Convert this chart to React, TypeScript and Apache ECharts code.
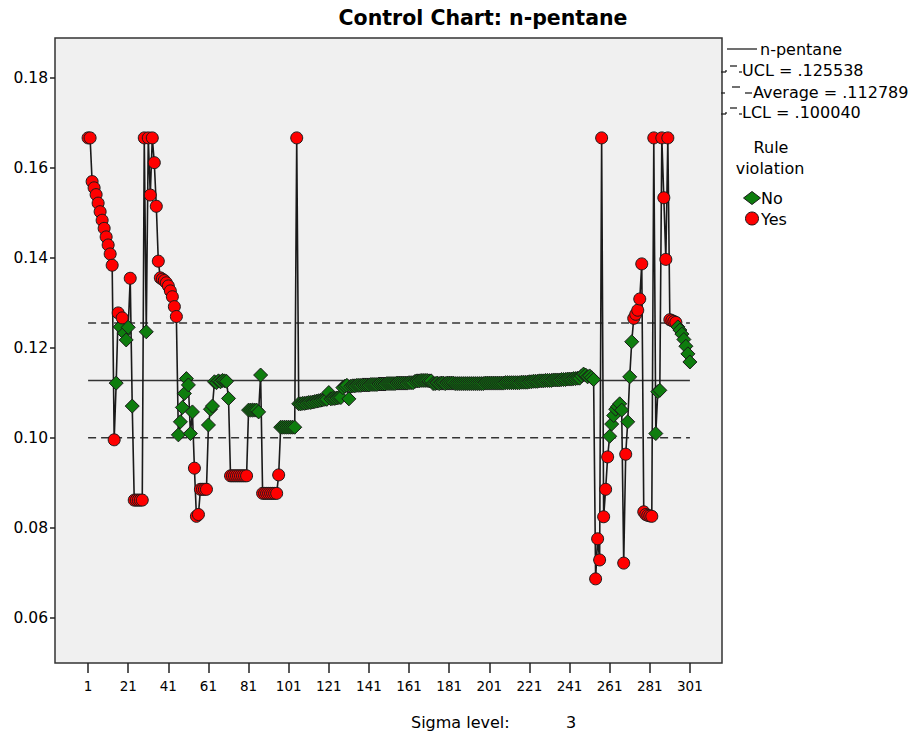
import React, { useEffect, useRef } from "react";
import * as echarts from "echarts";

const xTicks = [1, 21, 41, 61, 81, 101, 121, 141, 161, 181, 201, 221, 241, 261, 281, 301];
const yTicks = [0.06, 0.08, 0.1, 0.12, 0.14, 0.16, 0.18];
const UCL = 0.125538;
const AVERAGE = 0.112789;
const LCL = 0.10004;
const legendLabels = ["n-pentane", "UCL = .125538", "Average = .112789", "LCL = .100040"];
const ruleLabels = ["No", "Yes"];

// n-pentane values, sample 1..301
const values = [
  // 1-13
  0.1667, 0.1667, 0.157, 0.1556, 0.1541, 0.1522, 0.1503, 0.1484, 0.1466, 0.1447, 0.1429, 0.1409, 0.1384,
  // 14-23
  0.0996, 0.1122, 0.1278, 0.1247, 0.1267, 0.1233, 0.1218, 0.1246, 0.1355, 0.1071,
  // 24-28
  0.0862, 0.0862, 0.0862, 0.0862, 0.0862,
  // 29-36
  0.1667, 0.1236, 0.1667, 0.154, 0.1667, 0.1612, 0.1515, 0.1393,
  // 37-45
  0.1356, 0.1353, 0.135, 0.1345, 0.1338, 0.1327, 0.1314, 0.1292, 0.127,
  // 46-53
  0.1007, 0.1036, 0.1068, 0.1099, 0.1132, 0.1118, 0.101, 0.1058,
  // 54-60
  0.0933, 0.0826, 0.083, 0.0886, 0.0886, 0.0886, 0.0886,
  // 61-71
  0.1029, 0.1064, 0.1071, 0.1125, 0.1123, 0.1127, 0.1125, 0.1128, 0.1127, 0.1126, 0.1088,
  // 72-80
  0.0916, 0.0916, 0.0916, 0.0916, 0.0916, 0.0916, 0.0916, 0.0916, 0.0916,
  // 81-86
  0.1062, 0.1062, 0.1062, 0.1062, 0.1062, 0.1058,
  // 87
  0.114,
  // 88-95
  0.0877, 0.0877, 0.0877, 0.0877, 0.0877, 0.0877, 0.0877, 0.0877,
  // 96
  0.0918,
  // 97-104
  0.1024, 0.1024, 0.1024, 0.1024, 0.1024, 0.1024, 0.1024, 0.1024,
  // 105
  0.1667,
  // 106-120
  0.1076, 0.1076, 0.1077, 0.1077, 0.1078, 0.1079, 0.1079, 0.108, 0.1081, 0.1082, 0.1083, 0.1084, 0.1085, 0.1086, 0.1086,
  // 121
  0.1101,
  // 122-127
  0.1087, 0.1088, 0.1088, 0.1089, 0.109, 0.109,
  // 128-130
  0.1112, 0.1115, 0.1117,
  // 131
  0.1087,
  // 132-150
  0.1115, 0.1116, 0.1116, 0.1117, 0.1117, 0.1117, 0.1118, 0.1118, 0.1118, 0.1118,
  0.1119, 0.1119, 0.1119, 0.1119, 0.112, 0.112, 0.112, 0.112, 0.1121,
  // 151-163
  0.1121, 0.1121, 0.1121, 0.1121, 0.1122, 0.1122, 0.1122, 0.1122, 0.1122, 0.1122, 0.1123, 0.1123, 0.1123,
  // 164-172
  0.1126, 0.1127, 0.1127, 0.1128, 0.1128, 0.1128, 0.1128, 0.1127, 0.1127,
  // 173-220
  0.1121, 0.1121, 0.1122, 0.1121, 0.1122, 0.1122, 0.1121, 0.1122, 0.1122, 0.1122,
  0.1122, 0.1121, 0.1121, 0.1121, 0.1121, 0.1121, 0.1121, 0.1121, 0.1121, 0.1121,
  0.1121, 0.1121, 0.1121, 0.1121, 0.1121, 0.1121, 0.1122, 0.1122, 0.1122, 0.1122,
  0.1122, 0.1122, 0.1122, 0.1122, 0.1122, 0.1122, 0.1123, 0.1123, 0.1123, 0.1123,
  0.1123, 0.1123, 0.1123, 0.1123, 0.1124, 0.1124, 0.1124, 0.1124,
  // 221-245
  0.1125, 0.1125, 0.1126, 0.1126, 0.1126, 0.1127, 0.1127, 0.1127, 0.1128, 0.1128,
  0.1128, 0.1128, 0.1129, 0.1129, 0.1129, 0.1129, 0.113, 0.113, 0.113, 0.1131,
  0.1131, 0.1131, 0.1132, 0.1132, 0.1133,
  // 246-253
  0.1133, 0.1138, 0.1142, 0.114, 0.1136, 0.1138, 0.1134, 0.113,
  // 254-301
  0.0687, 0.0776, 0.0729, 0.1667, 0.0825, 0.0886, 0.0958, 0.1004, 0.1031, 0.105,
  0.1064, 0.107, 0.1076, 0.1062, 0.0722, 0.0964, 0.1036, 0.1136, 0.1214, 0.1266,
  0.1275, 0.1284, 0.1309, 0.1387, 0.0836, 0.083, 0.0828, 0.0827, 0.0826, 0.1667,
  0.101, 0.1103, 0.1106, 0.1667, 0.1534, 0.1397, 0.1667, 0.1263, 0.1261, 0.1259,
  0.1257, 0.1247, 0.124, 0.1231, 0.1219, 0.1204, 0.1187, 0.1169,
];

const GREEN = "#0e7d0e";
const RED = "#ff0000";
const FONT = '"DejaVu Sans", sans-serif';

export default function App() {
  const ref = useRef<HTMLDivElement>(null);
  useEffect(() => {
    if (!ref.current) return;
    const chart = echarts.init(ref.current, null, { renderer: "svg" });
    const n = values.length;
    const pts = values.map((v, i) => {
      const viol = v > UCL || v < LCL;
      return {
        value: [i + 1, v],
        symbol: viol ? "circle" : "diamond",
        symbolSize: viol ? 12 : 14,
        itemStyle: { color: viol ? RED : GREEN, borderColor: "#1a1a1a", borderWidth: 1 },
      };
    });
    const limitLine = (val: number, dashed: boolean, name: string) => ({
      type: "line",
      name,
      silent: true,
      symbol: "none",
      z: 1,
      data: [
        [1, val],
        [n, val],
      ],
      lineStyle: { color: "#333", width: 1.5, type: dashed ? [8, 5] : "solid" },
    });
    const lx = 720;
    const seg = (x1: number, y1: number, x2: number, y2: number) => ({
      type: "line",
      shape: { x1, y1, x2, y2 },
      style: { stroke: "#222", lineWidth: 1.3 },
    });
    const txt = (text: string, x: number, y: number, align = "left", size = 16, weight = "normal") => ({
      type: "text",
      x,
      y,
      style: {
        text,
        fill: "#000",
        font: `${weight} ${size}px ${FONT}`,
        align,
        verticalAlign: "middle",
      },
    });
    const option = {
      animation: false,
      backgroundColor: "#ffffff",
      textStyle: { fontFamily: FONT },
      grid: {
        left: 55,
        top: 38,
        width: 667,
        height: 625,
        show: true,
        backgroundColor: "#f0f0f0",
        borderColor: "#333",
        borderWidth: 1.5,
      },
      xAxis: {
        type: "value",
        min: -15.5,
        max: 317,
        axisLine: { show: false, onZero: false },
        splitLine: { show: false },
        axisTick: { show: true, customValues: xTicks, length: 10, lineStyle: { color: "#222", width: 1.5 } },
        axisLabel: { customValues: xTicks, fontSize: 13.5, color: "#000", margin: 16, fontFamily: FONT },
      },
      yAxis: {
        type: "value",
        min: 0.05,
        max: 0.1889,
        axisLine: { show: false, onZero: false },
        splitLine: { show: false },
        axisTick: { show: true, customValues: yTicks, length: 5, lineStyle: { color: "#222", width: 1.5 } },
        axisLabel: {
          customValues: yTicks,
          fontSize: 15.5,
          color: "#000",
          margin: 7,
          fontFamily: FONT,
          formatter: (v: number) => v.toFixed(2),
        },
      },
      series: [
        limitLine(UCL, true, "UCL"),
        limitLine(AVERAGE, false, "Average"),
        limitLine(LCL, true, "LCL"),
        {
          type: "line",
          name: "n-pentane",
          z: 3,
          showAllSymbol: true,
          data: pts,
          lineStyle: { color: "#1a1a1a", width: 1.6 },
        },
      ],
      graphic: [
        txt("Control Chart: n-pentane", 483, 18, "center", 20.5, "bold"),
        // legend: n-pentane
        seg(727, 49, 757, 49),
        txt(legendLabels[0], 760, 49),
        // UCL
        seg(lx + 1, 72, lx + 6, 72),
        seg(lx + 6, 72, lx + 6, 70),
        seg(lx + 10, 66, lx + 17, 66),
        seg(lx + 19, 72, lx + 22, 72),
        txt(legendLabels[1], 742, 70),
        // Average
        seg(lx + 1, 93, lx + 5, 93),
        seg(lx + 12, 87, lx + 20, 87),
        seg(lx + 25, 93, lx + 32, 93),
        txt(legendLabels[2], 753, 92),
        // LCL
        seg(lx + 1, 114, lx + 6, 114),
        seg(lx + 6, 114, lx + 6, 112),
        seg(lx + 10, 108, lx + 17, 108),
        seg(lx + 19, 114, lx + 22, 114),
        txt(legendLabels[3], 742, 112),
        // Rule violation
        txt("Rule", 771, 147, "center"),
        txt("violation", 770, 168, "center"),
        {
          type: "polygon",
          shape: { points: [[743.5, 198], [752, 191.5], [760.5, 198], [752, 204.5]] },
          style: { fill: GREEN, stroke: "#1a1a1a", lineWidth: 1 },
        },
        txt(ruleLabels[0], 761, 198),
        {
          type: "circle",
          shape: { cx: 752, cy: 218.5, r: 6.5 },
          style: { fill: RED, stroke: "#1a1a1a", lineWidth: 1 },
        },
        txt(ruleLabels[1], 761, 219),
        // sigma
        txt("Sigma level:", 411, 722),
        txt("3", 566, 722),
      ],
    };
    chart.setOption(option as any);
    return () => chart.dispose();
  }, []);
  return (
    <div
      ref={ref}
      style={{ position: "fixed", left: 0, top: 0, width: 909, height: 744, background: "#fff" }}
    />
  );
}
